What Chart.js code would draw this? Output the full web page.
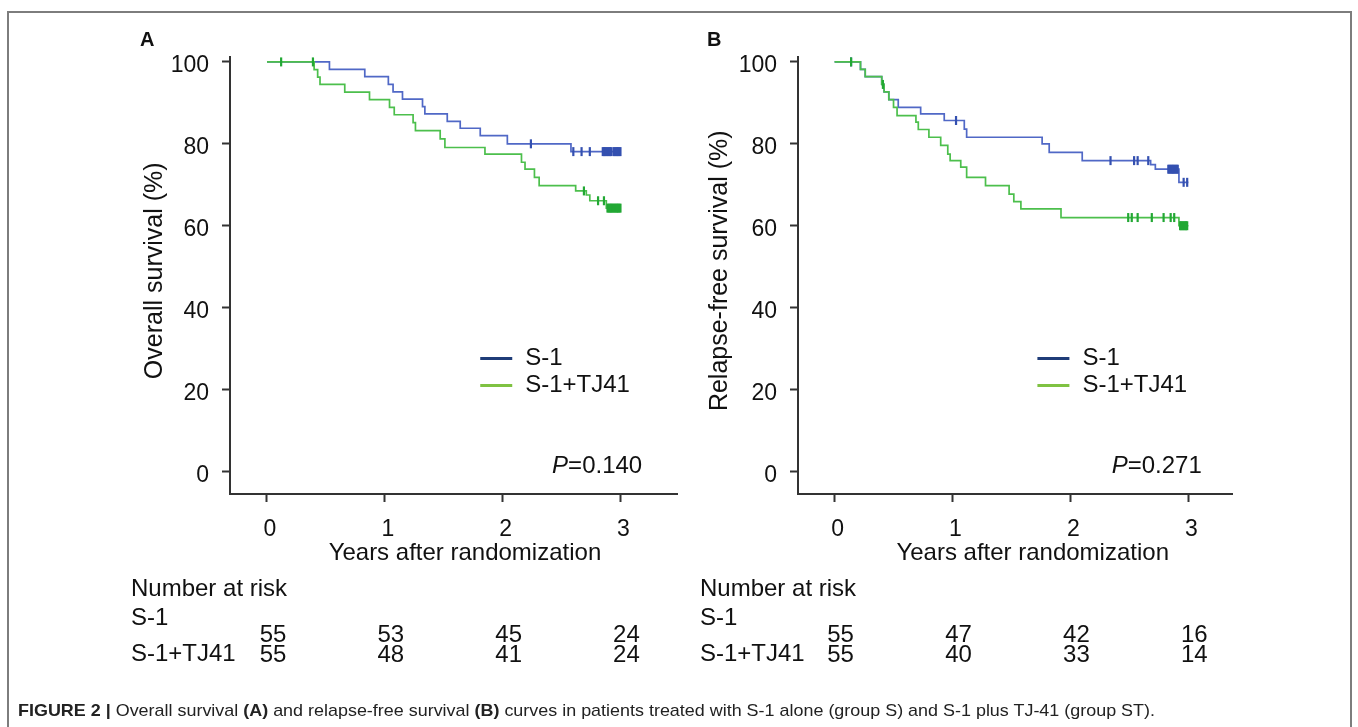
<!DOCTYPE html>
<html>
<head>
<meta charset="utf-8">
<script src="https://cdn.jsdelivr.net/npm/chart.js@4.4.1/dist/chart.umd.min.js"></script>
<style>
  html, body { margin: 0; padding: 0; background: #fff; }
  body { width: 1358px; height: 727px; position: relative; overflow: hidden; }
  #frame { position: absolute; left: 7px; top: 11px; width: 1345px; height: 760px; border: 2px solid #7d7d7d; box-sizing: border-box; }
  #chartA { position: absolute; left: 0; top: 0; }
  #chartB { position: absolute; left: 690px; top: 0; }
  #caption { position: absolute; left: 18px; top: 701px; line-height: 20px; font-family: "Liberation Sans Narrow", "Arial Narrow", "Liberation Sans", sans-serif; font-size: 17px; color: #222; white-space: nowrap; transform-origin: 0 0; }
</style>
</head>
<body>
<div id="frame"></div>
<canvas id="chartA" width="690" height="727"></canvas>
<canvas id="chartB" width="668" height="727"></canvas>
<div id="caption"><b>FIGURE 2 |</b> Overall survival <b>(A)</b> and relapse-free survival <b>(B)</b> curves in patients treated with S-1 alone (group S) and S-1 plus TJ-41 (group ST).</div>

<script>
// axis ticks
const yearTicks = [0, 1, 2, 3];
const pctTicks = [0, 20, 40, 60, 80, 100];
const groupNames = ['S-1', 'S-1+TJ41'];

// Panel A - overall survival (years, % surviving after each step)
const osS1Time = [0, 0.53, 0.83, 1.03, 1.07, 1.15, 1.32, 1.34, 1.53, 1.64, 1.81, 2.04, 2.58, 3.0];
const osS1Surv = [100, 98.2, 96.4, 94.5, 92.7, 90.9, 89.1, 87.3, 85.5, 83.8, 82.0, 80.0, 78.1, 78.1];
const osS1Cens = [2.24, 2.60, 2.67, 2.74, 2.85, 2.86, 2.87, 2.88, 2.89, 2.90, 2.91, 2.92, 2.94, 2.95, 2.96, 2.97, 2.98, 2.99, 3.0];
const osStTime = [0, 0.40, 0.43, 0.45, 0.66, 0.87, 1.04, 1.08, 1.24, 1.26, 1.47, 1.51, 1.85, 2.16, 2.19, 2.27, 2.31, 2.62, 2.71, 2.74, 2.88, 3.0];
const osStSurv = [100, 98.1, 96.3, 94.5, 92.6, 90.8, 88.9, 87.1, 85.2, 83.2, 81.2, 79.1, 77.5, 75.5, 73.8, 71.8, 69.8, 68.5, 67.5, 66.1, 64.3, 64.3];
const osStCens = [0.12, 0.39, 2.69, 2.81, 2.86, 2.89, 2.90, 2.91, 2.92, 2.93, 2.94, 2.95, 2.96, 2.97, 2.98, 2.99, 3.0];
const osRiskS1 = [55, 53, 45, 24];
const osRiskSt = [55, 48, 41, 24];

// Panel B - relapse-free survival
const rfsS1Time = [0, 0.22, 0.26, 0.40, 0.42, 0.46, 0.54, 0.73, 0.93, 1.10, 1.12, 1.76, 1.82, 2.10, 2.68, 2.72, 2.92, 3.0];
const rfsS1Surv = [100, 98.2, 96.4, 94.5, 92.7, 90.8, 88.9, 87.3, 85.7, 83.6, 81.6, 80.0, 77.9, 75.9, 74.9, 73.8, 70.6, 70.6];
const rfsS1Cens = [0.14, 1.03, 2.34, 2.54, 2.57, 2.66, 2.83, 2.84, 2.85, 2.86, 2.87, 2.88, 2.89, 2.90, 2.91, 2.96, 2.99];
const rfsStTime = [0, 0.22, 0.26, 0.40, 0.42, 0.46, 0.50, 0.53, 0.69, 0.71, 0.80, 0.90, 0.96, 0.98, 1.07, 1.12, 1.28, 1.48, 1.52, 1.58, 1.92, 2.92, 3.0];
const rfsStSurv = [100, 98.2, 96.4, 94.5, 92.7, 90.8, 88.9, 86.9, 85.3, 83.5, 81.6, 79.6, 77.5, 75.9, 74.3, 71.8, 69.8, 67.7, 65.9, 64.1, 62.0, 60.0, 60.0];
const rfsStCens = [0.14, 0.41, 2.49, 2.52, 2.57, 2.69, 2.79, 2.85, 2.88, 2.93, 2.94, 2.95, 2.96, 2.97, 2.98, 2.99];
const rfsRiskS1 = [55, 47, 42, 16];
const rfsRiskSt = [55, 40, 33, 14];

const FONT = '"Liberation Sans", Arial, sans-serif';
const blueLine = '#5068c6', blueMark = '#3450b0', blueKey = '#1f3c78';
const greenLine = '#4cbf4c', greenMark = '#22a834', greenKey = '#7fc242';

function toPoints(times, surv) {
    return times.map((t, i) => ({ x: t, y: surv[i] }));
}

// value of the KM step curve at time t (censor marks sit on the curve)
function survAt(times, surv, t) {
    let s = surv[0];
    for (let i = 0; i < times.length; i++) {
        if (times[i] <= t) s = surv[i];
    }
    return s;
}

function censPoints(cens, times, surv) {
    return cens.map(t => ({ x: t, y: survAt(times, surv, t) }));
}

const overlay = {
    id: 'overlay',
    afterDraw(chart, args, o) {
        const ctx = chart.ctx;
        const x = chart.scales.x, y = chart.scales.y;
        ctx.save();
        ctx.fillStyle = '#111';
        ctx.textBaseline = 'middle';

        // panel letter
        ctx.font = 'bold 20px ' + FONT;
        ctx.textAlign = 'left';
        ctx.fillText(o.letter, o.letterX, 40);

        // axis titles
        ctx.font = '24px ' + FONT;
        ctx.textAlign = 'center';
        ctx.fillText('Years after randomization', x.getPixelForValue(1.68), 553);
        ctx.save();
        ctx.translate(o.yTitleX, y.getPixelForValue(49));
        ctx.rotate(-Math.PI / 2);
        ctx.font = '25px ' + FONT;
        ctx.fillText(o.yTitle, 0, 0);
        ctx.restore();

        // legend inside the plot
        ctx.textAlign = 'left';
        ctx.lineWidth = 3;
        const keyColors = [blueKey, greenKey];
        groupNames.forEach((name, i) => {
            const yy = y.getPixelForValue(27.6 - i * 6.6);
            const x0 = x.getPixelForValue(o.keyStart);
            ctx.strokeStyle = keyColors[i];
            ctx.beginPath();
            ctx.moveTo(x0, yy);
            ctx.lineTo(x0 + 32, yy);
            ctx.stroke();
            ctx.fillText(name, x0 + 45, yy);
        });

        // p value
        const px = x.getPixelForValue(o.pStart), py = y.getPixelForValue(1.2);
        ctx.font = 'italic 24px ' + FONT;
        ctx.fillText('P', px, py);
        const pw = ctx.measureText('P').width;
        ctx.font = '24px ' + FONT;
        ctx.fillText('=' + o.pValue, px + pw, py);

        // number at risk table
        ctx.fillText('Number at risk', o.tableX, 589);
        ctx.fillText(groupNames[0], o.tableX, 618);
        ctx.fillText(groupNames[1], o.tableX, 654);
        ctx.textAlign = 'center';
        yearTicks.forEach((t, i) => {
            const cx = x.getPixelForValue(t) + 6;
            ctx.fillText(String(o.risk[0][i]), cx, 635);
            ctx.fillText(String(o.risk[1][i]), cx, 655);
        });
        ctx.restore();
    }
};

function makeChart(id, cfg) {
    const axisColor = '#333';
    return new Chart(document.getElementById(id), {
        type: 'line',
        data: {
            datasets: [
                { data: censPoints(cfg.stCens, cfg.stTime, cfg.stSurv), showLine: false, pointStyle: 'line', rotation: 90, pointRadius: 4.5, borderWidth: 2.2, borderColor: greenMark, backgroundColor: greenMark },
                { data: toPoints(cfg.stTime, cfg.stSurv), stepped: 'before', pointRadius: 0, borderWidth: 1.7, borderColor: greenLine, fill: false },
                { data: censPoints(cfg.s1Cens, cfg.s1Time, cfg.s1Surv), showLine: false, pointStyle: 'line', rotation: 90, pointRadius: 4.5, borderWidth: 2.2, borderColor: blueMark, backgroundColor: blueMark },
                { data: toPoints(cfg.s1Time, cfg.s1Surv), stepped: 'before', pointRadius: 0, borderWidth: 1.7, borderColor: blueLine, fill: false }
            ]
        },
        options: {
            responsive: false,
            animation: false,
            events: [],
            layout: { padding: { top: 57, right: cfg.padRight, left: 0, bottom: 0 } },
            plugins: {
                legend: { display: false },
                tooltip: { enabled: false },
                overlay: cfg.overlay
            },
            scales: {
                x: {
                    type: 'linear',
                    min: cfg.xMin,
                    max: cfg.xMax,
                    afterBuildTicks: s => { s.ticks = yearTicks.map(v => ({ value: v })); },
                    afterFit: s => { s.height = 233; },
                    border: { display: true, color: axisColor, width: 2 },
                    grid: { drawOnChartArea: false, drawTicks: true, tickLength: 8, tickColor: axisColor, tickWidth: 2 },
                    ticks: { color: '#111', font: { family: FONT, size: 23 }, padding: 14, labelOffset: 3, maxRotation: 0 }
                },
                y: {
                    type: 'linear',
                    min: -5.5,
                    max: 101.2,
                    afterBuildTicks: s => { s.ticks = pctTicks.map(v => ({ value: v })); },
                    afterFit: s => { s.width = cfg.yWidth; },
                    border: { display: true, color: axisColor, width: 2 },
                    grid: { drawOnChartArea: false, drawTicks: true, tickLength: 8, tickColor: axisColor, tickWidth: 2 },
                    ticks: { color: '#111', font: { family: FONT, size: 23 }, padding: 13, labelOffset: 4 }
                }
            }
        },
        plugins: [overlay]
    });
}

makeChart('chartA', {
    s1Time: osS1Time, s1Surv: osS1Surv, s1Cens: osS1Cens,
    stTime: osStTime, stSurv: osStSurv, stCens: osStCens,
    xMin: -0.314, xMax: 3.48, yWidth: 230, padRight: 13,
    overlay: {
        letter: 'A', letterX: 140, yTitle: 'Overall survival (%)', yTitleX: 155,
        keyStart: 1.81, pStart: 2.42, pValue: '0.140', tableX: 131,
        risk: [osRiskS1, osRiskSt]
    }
});

makeChart('chartB', {
    s1Time: rfsS1Time, s1Surv: rfsS1Surv, s1Cens: rfsS1Cens,
    stTime: rfsStTime, stSurv: rfsStSurv, stCens: rfsStCens,
    xMin: -0.31, xMax: 3.37, yWidth: 108, padRight: 126,
    overlay: {
        letter: 'B', letterX: 17, yTitle: 'Relapse-free survival (%)', yTitleX: 30,
        keyStart: 1.72, pStart: 2.35, pValue: '0.271', tableX: 10,
        risk: [rfsRiskS1, rfsRiskSt]
    }
});

// squeeze the caption to the width it has in the figure
const cap = document.getElementById('caption');
const capW = cap.getBoundingClientRect().width;
cap.style.transform = 'scaleX(' + (1137 / capW) + ')';
</script>
</body>
</html>
